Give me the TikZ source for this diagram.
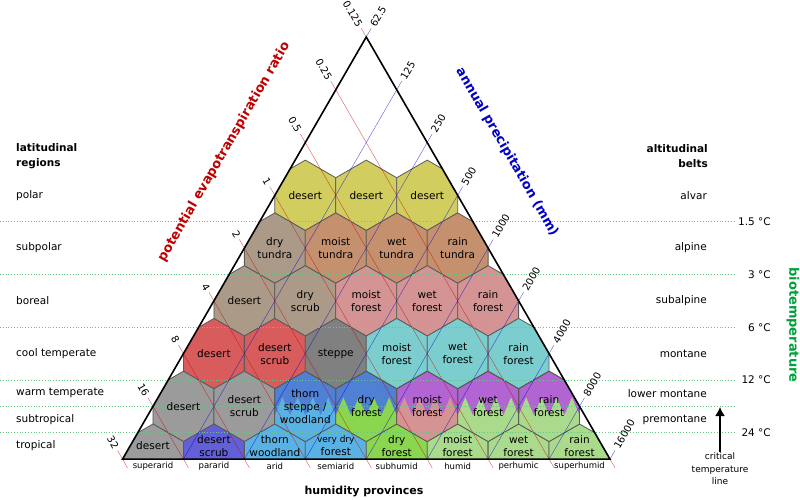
\documentclass[tikz,border=0pt]{standalone}
\usepackage{fontspec}
\setmainfont{DejaVu Sans}
\usepackage{tikz}
\usetikzlibrary{arrows.meta,positioning,calc}

\definecolor{petred}{RGB}{200,0,0}
\definecolor{petaxis}{RGB}{190,0,0}
\definecolor{precblue}{RGB}{0,0,200}
\definecolor{biogreen}{RGB}{0,160,60}
\definecolor{hexgray}{RGB}{90,90,90}
\definecolor{polardes}{RGB}{210,205,95}
\definecolor{drytan}{RGB}{170,154,135}
\definecolor{tundra}{RGB}{196,144,110}
\definecolor{borpink}{RGB}{212,148,148}
\definecolor{coolred}{RGB}{216,92,92}
\definecolor{steppegray}{RGB}{128,128,128}
\definecolor{coolteal}{RGB}{124,206,206}
\definecolor{warmgray}{RGB}{155,155,155}
\definecolor{thornblue}{RGB}{80,128,212}
\definecolor{skyblue}{RGB}{90,178,228}
\definecolor{drygreen}{RGB}{138,214,78}
\definecolor{wetpurple}{RGB}{178,100,210}
\definecolor{palegreen}{RGB}{170,218,140}
\definecolor{scrubviolet}{RGB}{98,95,215}

\newcommand{\hexR}{35.18}
\newcommand{\hexcell}[1]{(#1) +(90:\hexR) -- +(30:\hexR) -- +(-30:\hexR) -- +(-90:\hexR) -- +(-150:\hexR) -- +(150:\hexR) -- cycle}

\begin{document}
\begin{tikzpicture}[x=1pt, y=-1pt,
  every node/.style={font=\fontsize{10.5}{13}\selectfont, align=center, inner sep=1pt},
  hexedge/.style={draw=hexgray, line width=0.8pt},
  petline/.style={petred, line width=0.45pt, opacity=0.6},
  precline/.style={precblue, line width=0.45pt, opacity=0.6},
  beltline/.style={biogreen!60, dotted, line width=0.8pt},
  ticklab/.style={font=\fontsize{10}{12}\selectfont, inner sep=0.5pt},
  axislab/.style={font=\bfseries\fontsize{13}{15}\selectfont}]
  \useasboundingbox (0,0) rectangle (800,500);
  \coordinate (apex) at (366.25,37);
  \coordinate (bl) at (122.5,459.16);
  \coordinate (br) at (610,459.16);

  \begin{scope}
    \clip (apex) -- (bl) -- (br) -- cycle;
    \foreach \k/\n/\fc in {3/-2/polardes, 3/0/polardes, 3/2/polardes,
      4/-3/drytan, 4/-1/tundra, 4/1/tundra, 4/3/tundra,
      5/-4/drytan, 5/-2/drytan, 5/0/borpink, 5/2/borpink, 5/4/borpink,
      6/-5/coolred, 6/-3/coolred, 6/-1/steppegray, 6/1/coolteal, 6/3/coolteal, 6/5/coolteal,
      7/-6/warmgray, 7/-4/warmgray, 7/-2/thornblue, 7/0/thornblue, 7/2/wetpurple, 7/4/wetpurple, 7/6/wetpurple,
      8/-7/warmgray, 8/-5/scrubviolet, 8/-3/skyblue, 8/-1/skyblue, 8/1/drygreen, 8/3/palegreen, 8/5/palegreen, 8/7/palegreen}
    {
      \coordinate (hc) at ({366.25+30.47*\n},{37+52.77*\k});
      \filldraw[fill=\fc, hexedge] \hexcell{hc};
    }
    \foreach \n/\fc in {-2/skyblue, 0/drygreen, 2/borpink, 4/palegreen, 6/palegreen}
    {
      \coordinate (hc) at ({366.25+30.47*\n},406.39);
      \begin{scope}
        \clip \hexcell{hc};
        \fill[fill=\fc] ($(hc)+(-30.47,9)$) \foreach \t in {1,...,4} {-- ++(7.62,-18) -- ++(7.62,18)}
          -- ++(0,40) -- ++(-60.94,0) -- cycle;
      \end{scope}
      \draw[hexedge] \hexcell{hc};
    }
  \end{scope}

  \foreach \ly in {221.7, 274.5, 327.2, 380, 406.4, 432.7}
    \draw[beltline] (0,\ly) -- (735,\ly);

  \foreach \k/\pv in {0/0.125, 1/0.25, 2/0.5, 3/1, 4/2, 5/4, 6/8, 7/16, 8/32}
  {
    \coordinate (pet\k) at ({366.25-30.47*\k},{37+52.77*\k});
    \coordinate (petb\k) at ({366.25+30.47*(8-2*\k)},459.16);
    \draw[petline] (pet\k) ++(-5,-8.66) -- (petb\k) -- +(5,8.66);
    \node[ticklab, rotate=-60, anchor=east] (petl\k) at ($(pet\k)+(-6,-10.4)$) {\pv};
  }
  \foreach \k/\pv in {0/62.5, 1/125, 2/250, 3/500, 4/1000, 5/2000, 6/4000, 7/8000, 8/16000}
  {
    \coordinate (pre\k) at ({366.25+30.47*\k},{37+52.77*\k});
    \coordinate (preb\k) at ({366.25-30.47*(8-2*\k)},459.16);
    \draw[precline] (pre\k) ++(5,-8.66) -- (preb\k);
    \node[ticklab, rotate=60, anchor=west] (prel\k) at ($(pre\k)+(6,-10.4)$) {\pv};
  }

  \draw[line width=1.6pt] (apex) -- (bl) -- (br) -- cycle;

  \foreach \n/\hy/\lbl [count=\i] in {-2/195.3/desert, 0/195.3/desert, 2/195.3/desert,
    -3/248.1/{dry\\tundra}, -1/248.1/{moist\\tundra}, 1/248.1/{wet\\tundra}, 3/248.1/{rain\\tundra},
    -4/300.9/desert, -2/300.9/{dry\\scrub}, 0/300.9/{moist\\forest}, 2/300.9/{wet\\forest}, 4/300.9/{rain\\forest},
    -5/353.6/desert, -3/353.6/{desert\\scrub}, -1/353.6/steppe, 1/353.6/{moist\\forest}, 3/353.6/{wet\\forest}, 5/353.6/{rain\\forest},
    -6/406.4/desert, -4/406.4/{desert\\scrub}, -2/406.4/{thorn\\steppe /\\woodland}, 0/406.4/{dry\\forest},
    2/406.4/{moist\\forest}, 4/406.4/{wet\\forest}, 6/406.4/{rain\\forest},
    -7/446/desert, -5/446/{desert\\scrub}, -3/446/{thorn\\woodland}, -1/446/{{\fontsize{9}{11}\selectfont very dry}\\forest},
    1/446/{dry\\forest}, 3/446/{moist\\forest}, 5/446/{wet\\forest}, 7/446/{rain\\forest}}
    \node (lz\i) at ({366.25+30.47*\n},\hy) {\lbl};

  \foreach \n/\hp [count=\i] in {-7/superarid, -5/pararid, -3/arid, -1/semiarid, 1/subhumid, 3/humid, 5/perhumic, 7/superhumid}
    \node[font=\fontsize{8.5}{10}\selectfont] (hum\i) at ({366.25+30.47*\n},466) {\hp};
  \node[font=\bfseries\fontsize{11}{13}\selectfont] (humprov) at (364,492) {humidity provinces};

  \node[axislab, petaxis, rotate=60] (petname) at (224,152) {potential evapotranspiration ratio};
  \node[axislab, precblue, rotate=-60] (prename) at (507,152) {annual precipitation (mm)};
  \node[axislab, biogreen, rotate=-90] (bioname) at (793,325) {biotemperature};

  \node[font=\bfseries\fontsize{10.5}{15}\selectfont, align=left, anchor=west] (latreg) at (15,156.5) {latitudinal\\regions};
  \foreach \ly/\rn [count=\i] in {195.3/polar, 248.1/subpolar, 300.9/boreal, 353.6/cool temperate,
    393.2/warm temperate, 419.6/subtropical, 446/tropical}
    \node[anchor=west] (lat\i) at (15,\ly) {\rn};

  \node[font=\bfseries\fontsize{10.5}{15}\selectfont, align=right, anchor=east] (altbelt) at (709,156.5) {altitudinal\\belts};
  \foreach \ly/\bn [count=\i] in {195.3/alvar, 248.1/alpine, 300.9/subalpine, 353.6/montane,
    393.2/lower montane, 419.6/premontane}
    \node[anchor=east] (alt\i) at (708,\ly) {\bn};

  \foreach \ly/\tl [count=\i] in {221.7/1.5 °C, 274.5/3 °C, 327.2/6 °C, 380/12 °C, 432.7/24 °C}
    \node[anchor=east] (tc\i) at (772,\ly) {\tl};

  \node[font=\fontsize{9}{12.5}\selectfont, inner sep=0.5pt] (crit) at (720,469) {critical\\temperature\\line};
  \coordinate (critend) at (720,407);
  \draw[-{Latex[length=9pt,width=10pt]}, line width=1.5pt] (crit) -- (critend);
\end{tikzpicture}
\end{document}
